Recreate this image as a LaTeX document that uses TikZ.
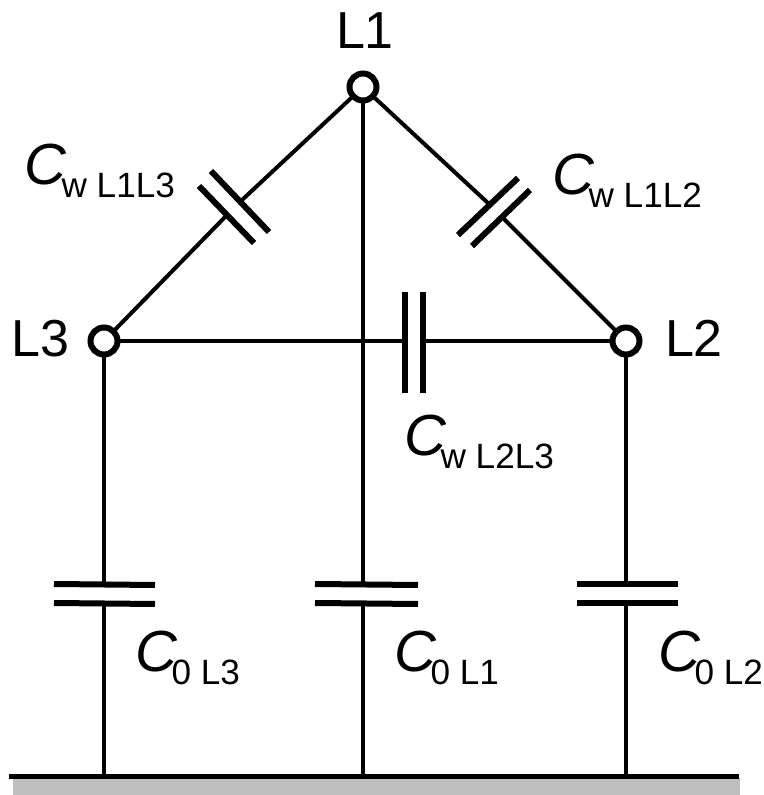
\documentclass[tikz,border=0pt]{standalone}
\usepackage{fontspec}
\setmainfont{Liberation Sans}
\usepackage{xcolor}
\usetikzlibrary{positioning,shapes}
\definecolor{groundgray}{HTML}{BFBFBF}
\newcommand{\capname}[1]{{\fontsize{33}{33}\selectfont\itshape C}\kern-3pt\raisebox{-7.2pt}{\fontsize{20}{20}\selectfont #1}}
\tikzset{
	terminal/.style={circle,draw,fill=white,line width=0.12cm,inner sep=0pt,outer sep=0pt,minimum size=0.54cm},
	linename/.style={font=\fontsize{29.6}{29.6}\selectfont,anchor=base west,inner sep=0pt,outer sep=0pt},
	capname/.style={anchor=base west,inner sep=0pt,outer sep=0pt},
	plate/.style={line width=0.12cm},
}
\begin{document}
\begin{tikzpicture}
		\useasboundingbox (0,0) rectangle (15.26,15.9);
		\fill[groundgray] (0.26,0) rectangle (14.8,0.34);
		% ground and capacitor ends
		\coordinate (gleft) at (0.18,0.36);
		\coordinate (gright) at (14.78,0.36);
		\coordinate (g3) at (2.08,0.36);
		\coordinate (g1) at (7.26,0.36);
		\coordinate (g2) at (12.52,0.36);
		\coordinate (a1) at (4.84,11.9);
		\coordinate (a2) at (4.54,11.6);
		\coordinate (b1) at (9.78,11.82);
		\coordinate (b2) at (10.08,11.52);
		\coordinate (c1) at (8.1,9.08);
		\coordinate (c2) at (8.46,9.08);
		\coordinate (d1) at (2.08,4.22);
		\coordinate (d2) at (2.08,3.84);
		\coordinate (e1) at (7.26,4.22);
		\coordinate (e2) at (7.26,3.84);
		\coordinate (f1) at (12.52,4.22);
		\coordinate (f2) at (12.52,3.84);
		\begin{scope}[every node/.style={terminal}]
			\node (L1) at (7.26,14.16) {};
			\node (L3) at (2.08,9.08) {};
			\node (L2) at (12.52,9.08) {};
		\end{scope}
		\begin{scope}[every path/.style={line width=0.08cm}]
			\path (L1) edge (a1) edge (b1) edge (e1);
			\path (L3) edge (a2) edge (c1) edge (d1);
			\path (L2) edge (b2) edge (c2) edge (f1);
			\path (g3) edge (d2);
			\path (g1) edge (e2);
			\path (g2) edge (f2);
		\end{scope}
		\draw[line width=0.1cm] (gleft) -- (gright);
		% plates
		\draw[plate] (4.22,12.48) -- (5.38,11.26);
		\draw[plate] (3.98,12.18) -- (5.08,11.04);
		\draw[plate] (10.36,12.34) -- (9.16,11.2);
		\draw[plate] (10.6,12.1) -- (9.44,10.98);
		\draw[plate] (8.1,10.06) -- (8.1,8.04);
		\draw[plate] (8.46,10.06) -- (8.46,8.04);
		\draw[plate] (1.08,4.22) -- (3.1,4.2);
		\draw[plate] (1.08,3.84) -- (3.1,3.82);
		\draw[plate] (6.3,4.22) -- (8.36,4.2);
		\draw[plate] (6.3,3.84) -- (8.36,3.82);
		\draw[plate] (11.54,4.22) -- (13.56,4.22);
		\draw[plate] (11.54,3.84) -- (13.56,3.84);
		% names
		\node[linename] (nL1) at (6.72,14.92) {L1};
		\node[linename] (nL3) at (0.24,8.76) {L3};
		\node[linename] (nL2) at (13.3,8.76) {L2};
		\node[capname] (cL13) at (0.5,12.2) {\capname{w L1L3}};
		\node[capname] (cL12) at (11.04,12) {\capname{w L1L2}};
		\node[capname] (cL23) at (8.08,6.78) {\capname{w L2L3}};
		\node[capname] (c0L3) at (2.7,2.46) {\capname{0 L3}};
		\node[capname] (c0L1) at (7.88,2.46) {\capname{0 L1}};
		\node[capname] (c0L2) at (13.16,2.46) {\capname{0 L2}};
	\end{tikzpicture}
\end{document}
